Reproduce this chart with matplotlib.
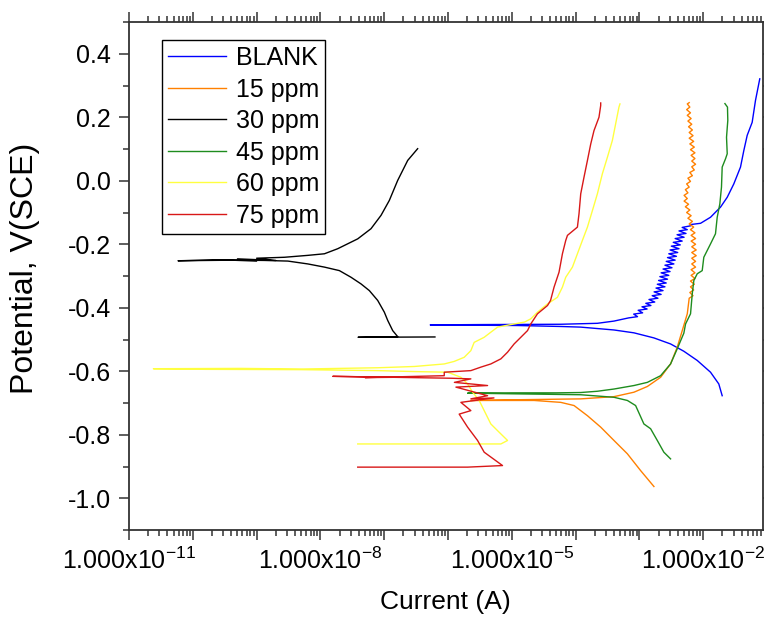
import numpy as np
import matplotlib
matplotlib.use("Agg")
import matplotlib.pyplot as plt
from matplotlib.ticker import LogLocator, FuncFormatter, NullFormatter, MultipleLocator

plt.rcParams["font.family"] = ["Liberation Sans", "DejaVu Sans"]
plt.rcParams["mathtext.default"] = "regular"
plt.rcParams["axes.unicode_minus"] = False

# log10 of current (A) and potential (V vs SCE)
blank_logi = [-1.703, -1.756, -1.886, -2.094, -2.304, -2.512, -2.773, -3.086, -3.399, -3.920, -4.233, -4.911, -6.279,
              -5.5, -4.233, -3.659, -3.399,
              -3.17, -3.03, -3.09, -2.95, -3.02, -2.88, -2.96, -2.82, -2.90, -2.76, -2.85, -2.71, -2.80, -2.66,
              -2.77, -2.63, -2.74, -2.60, -2.72, -2.58, -2.70, -2.56, -2.68, -2.54, -2.66, -2.52, -2.63, -2.49,
              -2.60, -2.46, -2.58, -2.44, -2.56, -2.42, -2.54, -2.40, -2.52, -2.38, -2.50, -2.36, -2.47, -2.33,
              -2.44, -2.30, -2.41, -2.27, -2.38, -2.25, -2.33, -2.20, -2.20,
              -2.042, -1.886, -1.729, -1.624, -1.521, -1.416, -1.364, -1.311, -1.233, -1.181, -1.114]
blank_v = [-0.677, -0.640, -0.603, -0.566, -0.537, -0.514, -0.495, -0.479, -0.470, -0.461, -0.459, -0.456, -0.454,
           -0.453, -0.452, -0.449, -0.442,
           -0.432, -0.428, -0.420, -0.416, -0.408, -0.404, -0.397, -0.393, -0.386, -0.382, -0.374, -0.370, -0.362, -0.358,
           -0.350, -0.346, -0.338, -0.334, -0.326, -0.322, -0.314, -0.310, -0.302, -0.298, -0.290, -0.286, -0.278, -0.274,
           -0.266, -0.262, -0.254, -0.250, -0.242, -0.238, -0.230, -0.226, -0.218, -0.214, -0.206, -0.202, -0.194, -0.190,
           -0.182, -0.178, -0.170, -0.166, -0.158, -0.154, -0.147, -0.142, -0.138,
           -0.134, -0.115, -0.083, -0.052, -0.010, 0.043, 0.095, 0.143, 0.184, 0.253, 0.321]

ppm15_logi = [-2.773, -2.981, -3.189, -3.399, -3.607, -3.815, -4.025, -4.233, -4.651, -5.642,
              -5.0, -3.920, -3.399, -3.086, -2.876, -2.668, -2.512, -2.407, -2.329, -2.250,
              -2.22, -2.16, -2.21, -2.15, -2.20, -2.14, -2.20, -2.13, -2.19, -2.13, -2.19, -2.12, -2.18, -2.12,
              -2.18, -2.11, -2.18, -2.11, -2.18, -2.12, -2.19, -2.12, -2.19, -2.13, -2.20, -2.15, -2.22, -2.17,
              -2.24, -2.19, -2.26, -2.21, -2.28, -2.23, -2.30, -2.25, -2.30, -2.24, -2.28, -2.22, -2.26, -2.20,
              -2.24, -2.17, -2.21, -2.14, -2.18, -2.12, -2.18, -2.13, -2.19, -2.13, -2.20, -2.14, -2.21, -2.15,
              -2.22, -2.16, -2.22, -2.17, -2.23, -2.18, -2.24, -2.19, -2.25, -2.20, -2.26, -2.21, -2.25, -2.22]
ppm15_v = [-0.963, -0.913, -0.860, -0.818, -0.776, -0.740, -0.708, -0.698, -0.692, -0.692,
           -0.690, -0.687, -0.680, -0.666, -0.648, -0.619, -0.577, -0.524, -0.472, -0.419,
           -0.370, -0.362, -0.352, -0.344, -0.334, -0.326, -0.316, -0.308, -0.298, -0.290, -0.280, -0.272, -0.262, -0.254,
           -0.244, -0.236, -0.226, -0.218, -0.208, -0.200, -0.190, -0.182, -0.172, -0.164, -0.154, -0.146, -0.136, -0.128,
           -0.118, -0.110, -0.100, -0.092, -0.082, -0.074, -0.064, -0.056, -0.046, -0.038, -0.028, -0.020, -0.010, -0.002,
           0.008, 0.016, 0.026, 0.034, 0.044, 0.052, 0.062, 0.070, 0.080, 0.088, 0.098, 0.106, 0.116, 0.124,
           0.134, 0.142, 0.152, 0.160, 0.170, 0.178, 0.188, 0.196, 0.206, 0.214, 0.224, 0.232, 0.242, 0.246]

ppm30_logi = [-6.205, -7.41, -6.789, -6.867, -6.945, -6.998, -7.102, -7.233, -7.363, -7.520, -7.703, -7.937,
              -8.197, -8.510, -8.876, -9.30, -10.232, -9.55, -9.00, -9.30, -8.70, -9.00, -8.563, -8.197,
              -7.937, -7.728, -7.415, -7.207, -7.050, -6.920, -6.789, -6.632, -6.476]
ppm30_v = [-0.492, -0.493, -0.491, -0.472, -0.440, -0.414, -0.377, -0.346, -0.325, -0.304, -0.283, -0.272,
           -0.262, -0.253, -0.251, -0.250, -0.252, -0.249, -0.253, -0.246, -0.251, -0.244, -0.241, -0.235,
           -0.230, -0.214, -0.183, -0.151, -0.109, -0.062, 0.001, 0.064, 0.101]

ppm45_logi = [-2.512, -2.617, -2.720, -2.825, -2.930, -3.060, -3.189, -3.399, -3.920, -5.0, -5.693,
              -5.0, -4.3, -3.920, -3.659, -3.399, -3.086, -2.876, -2.668, -2.512, -2.407, -2.304, -2.277,
              -2.199, -2.172, -2.147, -2.094, -2.016, -1.991, -1.886, -1.808, -1.781, -1.740, -1.714,
              -1.703, -1.651, -1.624, -1.635, -1.615, -1.620, -1.660]
ppm45_v = [-0.876, -0.855, -0.818, -0.781, -0.766, -0.708, -0.692, -0.682, -0.674, -0.671, -0.669,
           -0.668, -0.668, -0.667, -0.663, -0.656, -0.645, -0.635, -0.614, -0.577, -0.529, -0.480, -0.451,
           -0.419, -0.356, -0.314, -0.293, -0.283, -0.241, -0.199, -0.167, -0.115, -0.073, -0.020,
           0.043, 0.069, 0.085, 0.137, 0.190, 0.232, 0.243]

ppm60_logi = [-7.415, -5.172, -5.067, -5.199, -5.329, -5.433, -5.512, -5.615, -5.693, -5.798, -6.006,
              -6.529, -7.102, -8.302, -9.80, -10.618, -9.241, -8.30, -7.102, -6.529, -6.059, -5.903, -5.746,
              -5.642, -5.590, -5.433, -5.329, -5.223, -5.016, -4.80, -4.703, -4.598, -4.441, -4.285, -4.207,
              -4.155, -4.050, -3.972, -3.894, -3.815, -3.737, -3.659, -3.581, -3.502, -3.424, -3.373, -3.321,
              -3.305]
ppm60_v = [-0.829, -0.829, -0.818, -0.792, -0.766, -0.724, -0.692, -0.666, -0.640, -0.619, -0.603,
           -0.601, -0.598, -0.595, -0.594, -0.592, -0.591, -0.593, -0.589, -0.585, -0.577, -0.569, -0.556,
           -0.535, -0.509, -0.493, -0.477, -0.461, -0.453, -0.445, -0.435, -0.414, -0.388, -0.367, -0.335,
           -0.304, -0.272, -0.230, -0.188, -0.146, -0.094, -0.041, 0.022, 0.074, 0.127, 0.179, 0.232,
           0.242]

ppm75_logi = [-7.415, -5.693, -5.146, -5.433, -5.537, -5.693, -5.825, -5.642, -5.798, -5.28, -5.642, -5.380,
              -5.876, -5.380, -5.90, -5.642, -5.955, -7.806, -6.8, -7.3, -6.059, -6.059, -5.642, -5.485,
              -5.329, -5.172, -5.067, -4.964, -4.859, -4.754, -4.703, -4.598, -4.441, -4.393, -4.338, -4.260,
              -4.207, -4.155, -4.128, -3.972, -3.947, -3.920, -3.869, -3.815, -3.763, -3.712, -3.634, -3.607,
              -3.607]
ppm75_v = [-0.902, -0.902, -0.897, -0.855, -0.818, -0.776, -0.735, -0.724, -0.698, -0.684, -0.687, -0.677,
           -0.650, -0.645, -0.635, -0.624, -0.622, -0.616, -0.619, -0.620, -0.614, -0.603, -0.598, -0.587,
           -0.577, -0.561, -0.540, -0.514, -0.493, -0.472, -0.451, -0.419, -0.393, -0.377, -0.335, -0.288,
           -0.230, -0.188, -0.172, -0.146, -0.104, -0.041, 0.011, 0.064, 0.116, 0.158, 0.200, 0.237,
           0.245]

labels = ["BLANK", "15 ppm", "30 ppm", "45 ppm", "60 ppm", "75 ppm"]
colors = ["#0000FF", "#FF8000", "#000000", "#1E8C1E", "#FFFF40", "#D81818"]
series = [(blank_logi, blank_v), (ppm15_logi, ppm15_v), (ppm30_logi, ppm30_v),
          (ppm45_logi, ppm45_v), (ppm60_logi, ppm60_v), (ppm75_logi, ppm75_v)]

fig = plt.figure(figsize=(7.64, 6.17), dpi=100)
ax = fig.add_axes([129 / 764, 1 - 530 / 617, 633.7 / 764, 508 / 617])

for (logi, v), lab, c in zip(series, labels, colors):
    ax.plot(np.power(10.0, logi), v, color=c, linewidth=1.0, label=lab)

ax.set_xscale("log")
ax.set_xlim(1e-11, 10 ** -1.068)
ax.set_ylim(-1.1, 0.5)


def xfmt(val, pos):
    e = int(round(np.log10(val)))
    if e in (-11, -8, -5, -2):
        return r"1.000x10$^{%d}$" % e
    return ""


ax.xaxis.set_major_locator(LogLocator(base=10, numticks=30))
ax.xaxis.set_minor_locator(LogLocator(base=10, subs=np.arange(2, 10), numticks=30))
ax.xaxis.set_major_formatter(FuncFormatter(xfmt))
ax.xaxis.set_minor_formatter(NullFormatter())
ax.yaxis.set_major_locator(MultipleLocator(0.2))
ax.yaxis.set_minor_locator(MultipleLocator(0.1))
ax.yaxis.set_major_formatter(FuncFormatter(lambda v, p: "%.1f" % v))

ax.tick_params(which="both", direction="out", top=True, right=True, labeltop=False, labelright=False,
               width=1.1, color="#333333")
ax.tick_params(which="major", length=7, labelsize=18, pad=6)
ax.tick_params(which="minor", length=4)
for s in ax.spines.values():
    s.set_linewidth(1.3)
    s.set_color("#333333")

ax.set_xlabel("Current (A)", fontsize=19)
ax.set_ylabel("Potential, V(SCE)", fontsize=23)
ax.xaxis.set_label_coords(0.5, -0.118)
ax.yaxis.set_label_coords(-0.141, 0.515)

leg = ax.legend(loc="upper left", bbox_to_anchor=(0.052, 0.965), fontsize=18, frameon=True,
                fancybox=False, framealpha=1, edgecolor="black", borderaxespad=0,
                borderpad=0.25, labelspacing=0.3, handlelength=2.3, handletextpad=0.4)
leg.get_frame().set_linewidth(1.0)

plt.savefig("out.png", dpi=100)
